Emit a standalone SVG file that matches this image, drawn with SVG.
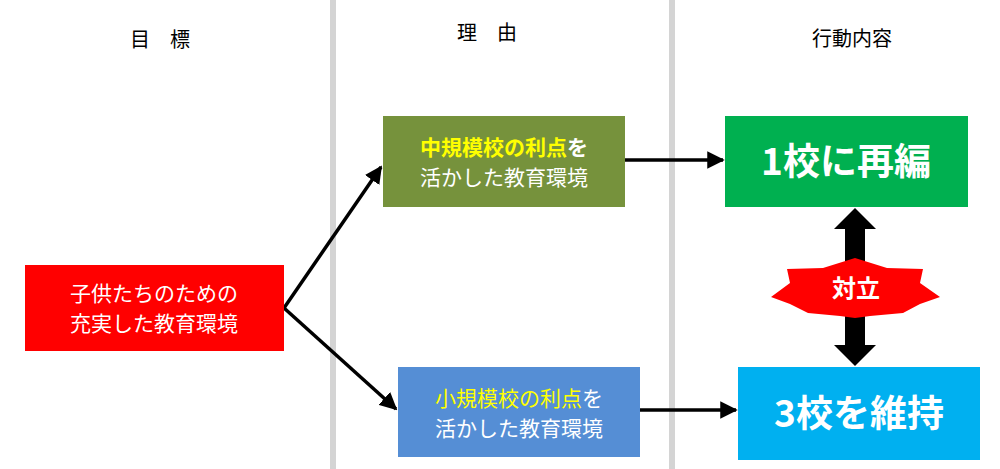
<svg xmlns="http://www.w3.org/2000/svg" width="1000" height="469" viewBox="0 0 1000 469">
<defs>
<marker id="ah" viewBox="0 0 10 10" refX="9" refY="5" markerWidth="5" markerHeight="5" orient="auto"><path d="M0,0L10,5L0,10z" fill="#000"/></marker>
<style>
text{font-family:"Noto Sans CJK JP","Noto Sans CJK SC",sans-serif;text-anchor:middle}
.h{font-size:20px;fill:#000}
.n{font-size:21px;fill:#fff;font-weight:bold}
.b{font-size:37px;fill:#fff;font-weight:bold}
.y{fill:#ffff00}
.c{stroke:#000;stroke-width:3.5;fill:none;marker-end:url(#ah)}
</style>
</defs>
<rect width="1000" height="469" fill="#fff"/>
<rect x="330" y="0" width="6" height="469" fill="#d4d4d4"/>
<rect x="669" y="0" width="6" height="469" fill="#d4d4d4"/>
<text class="h" x="160" y="47">目　標</text>
<text class="h" x="487" y="40">理　由</text>
<text class="h" x="852" y="46">行動内容</text>
<g id="connectors">
<line class="c" x1="284" y1="308" x2="381" y2="167"/>
<line class="c" x1="284" y1="308" x2="396" y2="409"/>
<line class="c" x1="625" y1="160" x2="723" y2="160"/>
<line class="c" x1="640" y1="410" x2="736" y2="410"/>
<polygon points="855,208 876,229 865,229 865,345 876,345 855,366 834,345 845,345 845,229 834,229" fill="#000"/>
</g>
<g id="goal"><rect x="25" y="265" width="259" height="86" fill="#ff0000"/>
<text class="n" x="154" y="301" style="font-weight:normal">子供たちのための</text>
<text class="n" x="154" y="331" style="font-weight:normal">充実した教育環境</text></g>
<g id="mid"><rect x="383" y="116" width="242" height="91" fill="#76923c"/>
<text class="n" x="504" y="155"><tspan class="y">中規模校の利点</tspan>を</text>
<text class="n" x="504" y="185" style="font-weight:normal">活かした教育環境</text></g>
<g id="small"><rect x="398" y="367" width="242" height="90" fill="#558ed5"/>
<text class="n" x="519" y="406" style="font-weight:normal"><tspan class="y">小規模校の利点</tspan>を</text>
<text class="n" x="519" y="436" style="font-weight:normal">活かした教育環境</text></g>
<g id="merge"><rect x="725" y="116" width="243" height="91" fill="#00b050"/>
<text class="b" x="846" y="175">1校に再編</text></g>
<g id="keep"><rect x="738" y="367" width="242" height="93" fill="#00b0f0"/>
<text class="b" x="859" y="427">3校を維持</text></g>
<g id="conflict">
<polygon points="771,297 790,283 787,269 823,268 855,258 887,268 923,269 920,283 940,297 920,304 903,313 870,316 855,318 840,316 808,313 790,304" fill="#ff0000"/>
<text class="n" x="856" y="297" style="font-size:24px">対立</text></g>
</svg>
